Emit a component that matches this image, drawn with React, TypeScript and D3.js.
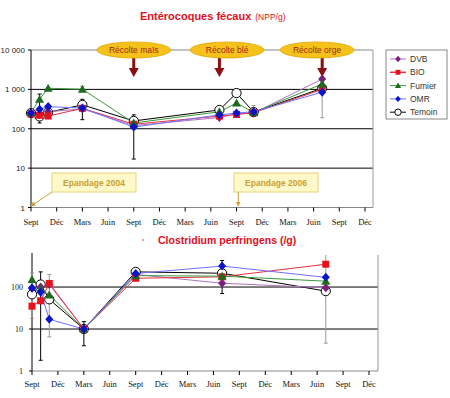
import React from "react";
import * as d3 from "d3";

// axis labels, one per quarter from Sept 2004
const quarterLabels = ["Sept", "Déc", "Mars", "Juin", "Sept", "Déc", "Mars", "Juin", "Sept", "Déc", "Mars", "Juin", "Sept", "Déc"];
const seriesNames = ["DVB", "BIO", "Fumier", "OMR", "Temoin"];

// Entérocoques fécaux (NPP/g) - months since Sept 2004
const entMonths = [0, 1, 2, 6, 12, 22, 24, 26, 34];
const entDVB = [250, 230, 270, 320, 120, 193, 240, 250, 1830];
const entBIO = [240, 220, 210, 330, 130, 210, 230, 255, 1000];
const entFumier = [260, 560, 1070, 1010, 140, 270, 450, 260, 1370];
const entOMR = [250, 315, 365, 335, 110, 225, 250, 270, 850];
const entTemoin = [250, 205, 260, 405, 158, 300, 805, 265, 1070];
const entErrMonths = [1, 6, 6, 12, 26, 34];
const entErrLow = [140, 170, 880, 17, 215, 190];
const entErrHigh = [760, 560, 1200, 225, 390, 1500];
const entErrDark = [true, true, false, true, false, false];
const entTicks = [1, 10, 100, 1000, 10000];
const entTickLabels = ["1", "10", "100", "1 000", "10 000"];

// Clostridium perfringens (/g)
const cloMonths = [0, 1, 2, 6, 12, 22, 34];
const cloDVB = [93, 100, 115, 10, 200, 123, 96];
const cloBIO = [35, 47, 122, 10, 162, 175, 350];
const cloFumier = [152, 90, 65, 10, 187, 182, 138];
const cloOMR = [95, 75, 17, 10, 210, 316, 170];
const cloTemoin = [67, 115, 51, 10, 230, 213, 80];
const cloErrMonths = [0, 1, 2, 6, 22, 34];
const cloErrLow = [18, 1.8, 6.5, 4, 70, 4.6];
const cloErrHigh = [215, 230, 200, 15, 430, 580];
const cloErrDark = [false, true, false, true, true, false];
const cloTicks = [1, 10, 100];

const harvestLabels = ["Récolte maïs", "Récolte blé", "Récolte orge"];
const harvestMonths = [12, 22, 34];
const harvestLabelMonths = [12, 22.9, 33.4];
const spreadLabels = ["Epandage 2004", "Epandage 2006"];
const spreadMonths = [0, 24.2];

const markerColor = ["#7a1f7a", "#e8101c", "#1e6b1e", "#0a14c8", "#ffffff"];
const lineColor = ["#b070c0", "#e83040", "#3a9a3a", "#7070ff", "#000000"];
const kinds = ["diamond", "square", "triangle", "diamond", "circle"];

const sans = "'Liberation Sans', Arial, sans-serif";
const serif = "'Liberation Serif', 'Times New Roman', serif";

function Marker({ kind, x, y, fill, s = 1 }: { kind: string; x: number; y: number; fill: string; s?: number }) {
  if (kind === "circle")
    return <circle cx={x} cy={y} r={4.6 * s} fill="#fff" stroke="#000" strokeWidth={1} />;
  if (kind === "square")
    return <rect x={x - 3.5 * s} y={y - 3.5 * s} width={7 * s} height={7 * s} fill={fill} />;
  if (kind === "triangle")
    return <path d={`M${x},${y - 4.5 * s}L${x + 4.5 * s},${y + 3.5 * s}L${x - 4.5 * s},${y + 3.5 * s}Z`} fill={fill} />;
  return <path d={`M${x},${y - 4.5 * s}L${x + 4 * s},${y}L${x},${y + 4.5 * s}L${x - 4 * s},${y}Z`} fill={fill} />;
}

function Series({ months, data, x, y }: { months: number[]; data: number[][]; x: any; y: any }) {
  const order = [4, 0, 1, 2, 3];
  const line = (vals: number[]) =>
    d3.line<number>().x((_, i) => x(months[i])).y((v) => y(v))(vals) as string;
  return (
    <g>
      {order.map((s) => (
        <path key={"l" + s} d={line(data[s])} fill="none" stroke={lineColor[s]} strokeWidth={1} />
      ))}
      {order.map((s) =>
        data[s].map((v, i) => (
          <Marker key={s + "-" + i} kind={kinds[s]} x={x(months[i])} y={y(v)} fill={markerColor[s]} />
        ))
      )}
    </g>
  );
}

function ErrBars({ months, low, high, dark, x, y, top }: any) {
  return (
    <g>
      {months.map((m: number, i: number) => {
        const cx = x(m);
        const y1 = y(low[i]);
        const y2 = Math.max(top, y(high[i]));
        const c = dark[i] ? "#000" : "#999";
        return (
          <g key={i} stroke={c} strokeWidth={1}>
            <line x1={cx} x2={cx} y1={y1} y2={y2} />
            <line x1={cx - 2} x2={cx + 2} y1={y1} y2={y1} />
            {y2 > top && <line x1={cx - 2} x2={cx + 2} y1={y2} y2={y2} />}
          </g>
        );
      })}
    </g>
  );
}

export default function App() {
  // top chart
  const xT = d3.scaleLinear().domain([0, 39]).range([31, 365]);
  const yT = d3.scaleLog().domain([1, 10000]).range([207.5, 50]);
  // bottom chart
  const xB = d3.scaleLinear().domain([0, 39]).range([32, 369]);
  const yB = d3.scaleLog().domain([1, 580]).range([371, 255]);

  const entData = [entDVB, entBIO, entFumier, entOMR, entTemoin];
  const cloData = [cloDVB, cloBIO, cloFumier, cloOMR, cloTemoin];
  const quarters = d3.range(quarterLabels.length).map((i) => i * 3);

  return (
    <svg width={450} height={398} style={{ position: "absolute", left: 0, top: 0, background: "#fff" }}>
      <defs>
        <marker id="goldHead" viewBox="0 0 10 10" refX={9} refY={5} markerWidth={5} markerHeight={5} orient="auto">
          <path d="M0,0L10,5L0,10Z" fill="#c8a030" />
        </marker>
      </defs>

      {/* title 1 */}
      <text x={140} y={20} fontFamily={sans} fontSize={11} fontWeight="bold" fill="#e0101e">
        Entérocoques fécaux
        <tspan fontSize={8.5} fontWeight="normal" dx={4}>(NPP/g)</tspan>
      </text>

      {/* ---- top chart ---- */}
      <g>
        {entTicks.slice(1, 4).map((t) => (
          <line key={t} x1={31} x2={373} y1={yT(t)} y2={yT(t)} stroke="#000" strokeWidth={1} />
        ))}
        <line x1={31} x2={373} y1={50} y2={50} stroke="#888" />
        <line x1={373} x2={373} y1={50} y2={207.5} stroke="#999" />
        <line x1={31} x2={373} y1={207.5} y2={207.5} stroke="#888" />
        <line x1={31} x2={31} y1={50} y2={207.5} stroke="#000" />
        {entTicks.map((t, i) => (
          <g key={t}>
            <line x1={28} x2={31} y1={yT(t)} y2={yT(t)} stroke="#000" />
            <text x={25} y={yT(t) + 3} textAnchor="end" fontFamily={sans} fontSize={8} fill="#222">
              {entTickLabels[i]}
            </text>
          </g>
        ))}
        {quarters.map((m, i) => (
          <g key={i}>
            <line x1={xT(m)} x2={xT(m)} y1={207.5} y2={211.5} stroke="#000" />
            <text x={xT(m)} y={225} textAnchor="middle" fontFamily={serif} fontSize={8.5} fill="#111">
              {quarterLabels[i]}
            </text>
          </g>
        ))}

        <ErrBars months={entErrMonths} low={entErrLow} high={entErrHigh} dark={entErrDark} x={xT} y={yT} top={50} />
        <Series months={entMonths} data={entData} x={xT} y={yT} />

        {/* harvest annotations */}
        {harvestLabels.map((lab, i) => {
          const ax = xT(harvestMonths[i]);
          const ex = xT(harvestLabelMonths[i]);
          return (
            <g key={lab}>
              <path
                d={`M${ax - 1.5},57L${ax + 1.5},57L${ax + 1.5},68L${ax + 5},68L${ax},77L${ax - 5},68L${ax - 1.5},68Z`}
                fill="#8b0f0f"
              />
              <ellipse cx={ex} cy={50} rx={37} ry={8} fill="#f5c21b" stroke="#e0a800" strokeWidth={0.8} />
              <text x={ex} y={53} textAnchor="middle" fontFamily={sans} fontSize={8.5} fill="#9a2a10">
                {lab}
              </text>
            </g>
          );
        })}

        {/* spreading annotations */}
        {spreadLabels.map((lab, i) => {
          const bx = i === 0 ? 52 : 234;
          const ax = xT(spreadMonths[i]);
          return (
            <g key={lab}>
              <rect x={bx} y={173} width={84} height={19} fill="#fff8c8" stroke="#e8d27a" strokeWidth={1} />
              <text x={bx + 42} y={186} textAnchor="middle" fontFamily={sans} fontSize={8.5} fontWeight="bold" fill="#c8a030">
                {lab}
              </text>
              <line
                x1={i === 0 ? bx : ax}
                y1={192}
                x2={ax}
                y2={206}
                stroke="#c8a030"
                strokeWidth={1}
                markerEnd="url(#goldHead)"
              />
            </g>
          );
        })}
      </g>

      {/* legend */}
      <g>
        <rect x={386} y={50} width={61} height={69} fill="#fff" stroke="#888" />
        {seriesNames.map((n, i) => {
          const ly = 59 + i * 13.3;
          return (
            <g key={n}>
              <line x1={390} x2={406} y1={ly} y2={ly} stroke={lineColor[i]} strokeWidth={i === 1 ? 1.5 : 1} />
              <Marker kind={kinds[i]} x={398} y={ly} fill={markerColor[i]} s={0.7} />
              <text x={410} y={ly + 3} fontFamily={sans} fontSize={8.5} fill="#333">
                {n}
              </text>
            </g>
          );
        })}
      </g>

      {/* title 2 */}
      <circle cx={143} cy={240} r={1} fill="#f08050" />
      <text x={158} y={244} fontFamily={sans} fontSize={10.5} fontWeight="bold" fill="#e0101e">
        Clostridium perfringens (/g)
      </text>

      {/* ---- bottom chart ---- */}
      <g>
        {cloTicks.slice(1).map((t) => (
          <line key={t} x1={32} x2={378} y1={yB(t)} y2={yB(t)} stroke="#000" strokeWidth={1} />
        ))}
        <line x1={378} x2={378} y1={255} y2={371} stroke="#999" />
        <line x1={32} x2={378} y1={371} y2={371} stroke="#888" />
        <line x1={32} x2={32} y1={253} y2={371} stroke="#000" />
        {cloTicks.map((t) => (
          <g key={t}>
            <line x1={29} x2={32} y1={yB(t)} y2={yB(t)} stroke="#000" />
            <text x={23} y={yB(t) + 3} textAnchor="end" fontFamily={serif} fontSize={8} fill="#222">
              {t}
            </text>
          </g>
        ))}
        {quarters.map((m, i) => (
          <g key={i}>
            <line x1={xB(m)} x2={xB(m)} y1={371} y2={375} stroke="#000" />
            <text x={xB(m)} y={387} textAnchor="middle" fontFamily={serif} fontSize={8.5} fill="#111">
              {quarterLabels[i]}
            </text>
          </g>
        ))}
        <ErrBars months={cloErrMonths} low={cloErrLow} high={cloErrHigh} dark={cloErrDark} x={xB} y={yB} top={255} />
        <Series months={cloMonths} data={cloData} x={xB} y={yB} />
      </g>
    </svg>
  );
}
